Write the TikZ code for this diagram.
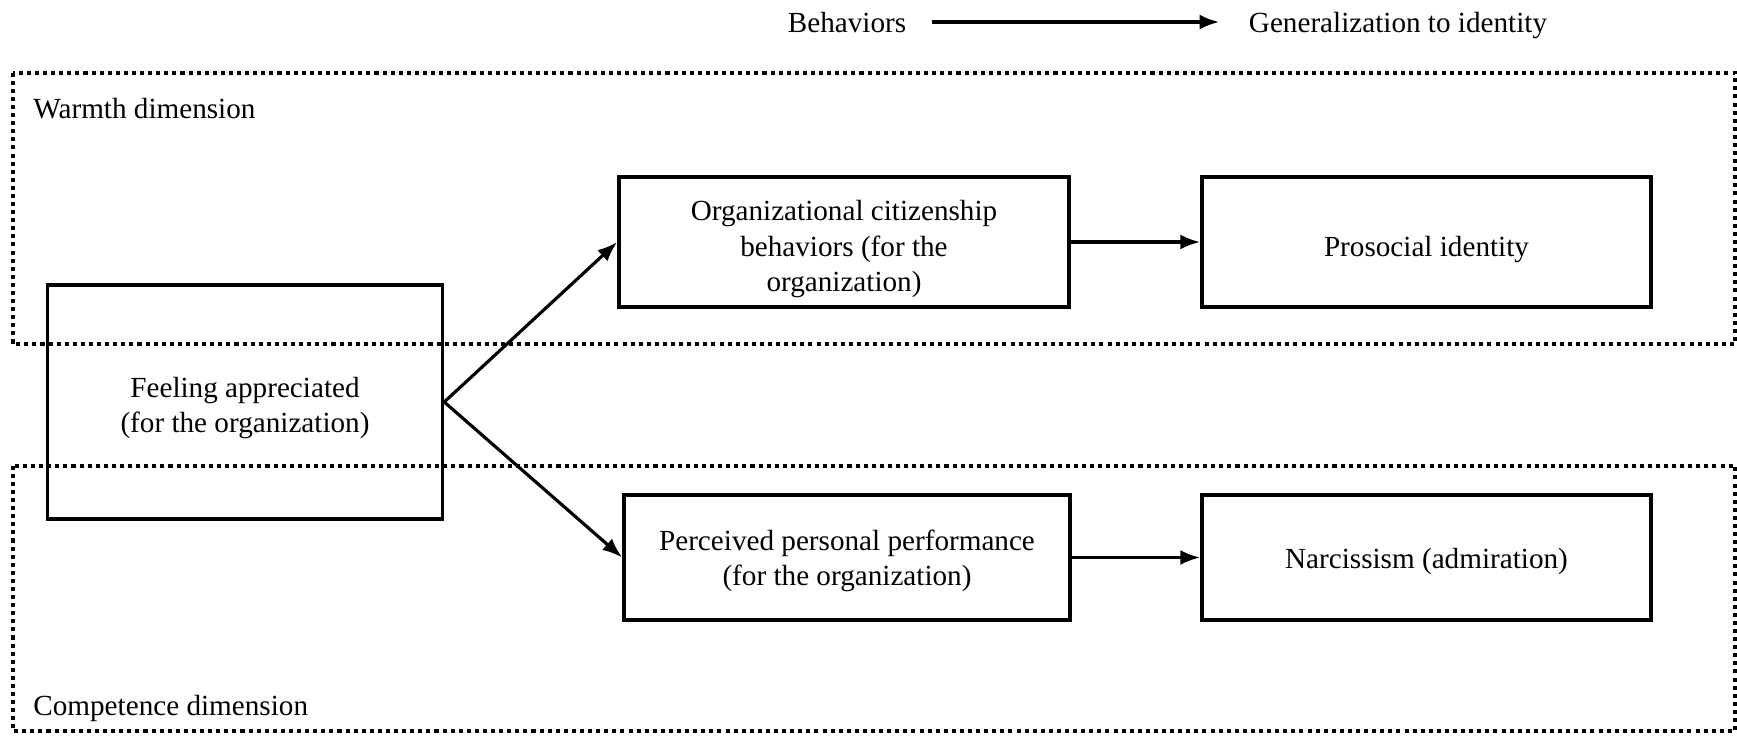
\documentclass[tikz,border=0pt]{standalone}
\usepackage{fontspec}
\setmainfont{Liberation Serif}
\usetikzlibrary{arrows.meta}
% box text sits a little below the middle of its box
\newcommand{\boxtext}[2][1.8pt]{\raisebox{-#1}[\height][\depth]{\begin{tabular}{@{}c@{}}#2\end{tabular}}}
\begin{document}
\begin{tikzpicture}[
    font=\fontsize{8.3}{10}\selectfont,
    box/.style={draw, line width=1pt, inner sep=0pt},
    dimbox/.style={line width=1.1pt, dash pattern=on 1.15pt off 1.15pt},
    arr/.style={-{Latex[length=2mm,width=1.5mm]}, line width=0.9pt}
  ]
    \useasboundingbox (0,0) rectangle (17.37,7.35);

    \draw[dimbox] (0.127,6.623) rectangle (17.35,3.91);
    \draw[dimbox] (0.127,2.693) rectangle (17.35,0.04);
    \node[anchor=west] (warm) at (0.21,6.265) {Warmth dimension};
    \node[anchor=west] (comp) at (0.21,0.265) {Competence dimension};

    \node[box, minimum width=3.95cm, minimum height=2.34cm] (feel) at (2.45,3.33) {\boxtext{Feeling appreciated\\(for the organization)}};
    \node[box, minimum width=4.50cm, minimum height=1.30cm] (ocb) at (8.44,4.93) {\boxtext[2pt]{Organizational citizenship\\behaviors (for the\\organization)}};
    \node[box, minimum width=4.49cm, minimum height=1.30cm] (pro) at (14.265,4.93) {\boxtext[2.2pt]{Prosocial identity}};
    \node[box, minimum width=4.46cm, minimum height=1.25cm] (ppp) at (8.47,1.775) {\boxtext[1pt]{Perceived personal performance\\(for the organization)}};
    \node[box, minimum width=4.49cm, minimum height=1.25cm] (nar) at (14.265,1.775) {\boxtext[1pt]{Narcissism (admiration)}};

    \draw[arr] (feel.east) -- (ocb.west);
    \draw[arr] (feel.east) -- (ppp.west);
    \draw[arr] (ocb) -- (pro);
    \draw[arr] (ppp) -- (nar);

    \node[anchor=base] (beh) at (8.47,7.03) {Behaviors};
    \node[anchor=base] (gen) at (13.98,7.03) {Generalization to identity};
    \draw[arr, line width=1pt, shorten <=1.3mm, shorten >=1.7mm] (beh.east) -- (gen.west |- beh.east);
\end{tikzpicture}
\end{document}
